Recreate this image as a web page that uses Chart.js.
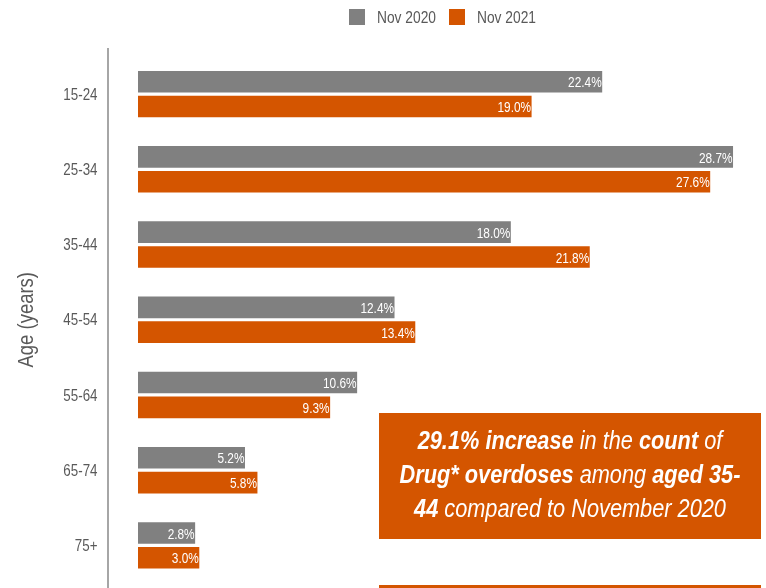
<!DOCTYPE html>
<html>
<head>
<meta charset="utf-8">
<script src="https://cdn.jsdelivr.net/npm/chart.js@4.4.1/dist/chart.umd.min.js"></script>
<style>
  html, body { margin: 0; padding: 0; background: #fff; }
  #wrap { width: 766px; height: 588px; position: relative; }
</style>
</head>
<body>
<div id="wrap"><canvas id="barChart"></canvas></div>
<script>
// Age groups and share of overdoses (%)
const ageGroups = ['15-24', '25-34', '35-44', '45-54', '55-64', '65-74', '75+'];
const nov2020 = [22.4, 28.7, 18.0, 12.4, 10.6, 5.2, 2.8];
const nov2021 = [19.0, 27.6, 21.8, 13.4, 9.3, 5.8, 3.0];
const seriesNames = ['Nov 2020', 'Nov 2021'];
const axisTitle = 'Age (years)';

const FONT = "'Liberation Sans', Arial, sans-serif";
const GREY = '#808080';
const ORANGE = '#D45500';
const TEXT = '#595959';

// the original uses a narrow font; squeeze Liberation Sans horizontally
function narrowText(ctx, str, x, y, squeeze) {
    ctx.save();
    ctx.translate(x, y);
    ctx.scale(squeeze, 1);
    ctx.fillText(str, 0, 0);
    ctx.restore();
}

// white value labels at the end of each bar
const barLabels = {
    id: 'barLabels',
    afterDatasetsDraw(chart) {
        const ctx = chart.ctx;
        ctx.save();
        ctx.font = '15px ' + FONT;
        ctx.fillStyle = '#fff';
        ctx.textAlign = 'right';
        ctx.textBaseline = 'middle';
        chart.data.datasets.forEach((ds, i) => {
            chart.getDatasetMeta(i).data.forEach((bar, j) => {
                narrowText(ctx, ds.data[j].toFixed(1) + '%', bar.x - 1.5, bar.y + 1.5, 0.79);
            });
        });
        ctx.restore();
    }
};

// legend, axis labels, axis line and the call-out box
const extras = {
    id: 'extras',
    afterDraw(chart) {
        const ctx = chart.ctx;
        const area = chart.chartArea;
        const yScale = chart.scales.y;
        ctx.save();

        // legend
        const legendX = [349, 449];
        const colours = [GREY, ORANGE];
        ctx.font = '16.5px ' + FONT;
        ctx.textBaseline = 'middle';
        ctx.textAlign = 'left';
        seriesNames.forEach((name, i) => {
            ctx.fillStyle = colours[i];
            ctx.fillRect(legendX[i], 9, 16, 16);
            ctx.fillStyle = TEXT;
            narrowText(ctx, name, legendX[i] + 28, 18, 0.835);
        });

        // category labels
        ctx.textAlign = 'right';
        ageGroups.forEach((g, i) => {
            narrowText(ctx, g, 97.5, yScale.getPixelForValue(i) + 1, 0.81);
        });

        // axis title
        ctx.save();
        ctx.translate(27, (area.top + area.bottom) / 2);
        ctx.rotate(-Math.PI / 2);
        ctx.textAlign = 'center';
        ctx.font = '22px ' + FONT;
        narrowText(ctx, axisTitle, 0, 0, 0.84);
        ctx.restore();

        ctx.strokeStyle = '#A6A6A6';
        ctx.lineWidth = 2;
        ctx.beginPath();
        ctx.moveTo(area.left, 48);
        ctx.lineTo(area.left, 588);
        ctx.stroke();

        ctx.fillStyle = ORANGE;
        ctx.fillRect(379, 413, 382, 126);
        ctx.fillRect(379, 585, 382, 3);

        const lines = [
            [['29.1% increase', true], [' in the ', false], ['count', true], [' of', false]],
            [['Drug* overdoses', true], [' among ', false], ['aged 35-', true]],
            [['44', true], [' compared to November 2020', false]]
        ];
        const ys = [442, 476, 510];
        const sq = 0.87;
        ctx.fillStyle = '#fff';
        ctx.textAlign = 'left';
        lines.forEach((segs, k) => {
            let total = 0;
            segs.forEach(s => {
                ctx.font = (s[1] ? 'italic bold ' : 'italic ') + '25px ' + FONT;
                total += ctx.measureText(s[0]).width * sq;
            });
            let x = 570 - total / 2;
            segs.forEach(s => {
                ctx.font = (s[1] ? 'italic bold ' : 'italic ') + '25px ' + FONT;
                narrowText(ctx, s[0], x, ys[k], sq);
                x += ctx.measureText(s[0]).width * sq;
            });
        });
        ctx.restore();
    }
};

new Chart(document.getElementById('barChart'), {
    type: 'bar',
    data: {
        labels: ageGroups,
        datasets: [
            { label: seriesNames[0], data: nov2020, backgroundColor: GREY,
              borderColor: 'rgba(255,255,255,0.5)', borderWidth: 1 },
            { label: seriesNames[1], data: nov2021, backgroundColor: ORANGE,
              borderColor: 'rgba(255,255,255,0.5)', borderWidth: 1 }
        ]
    },
    options: {
        indexAxis: 'y',
        responsive: true,
        maintainAspectRatio: false,
        animation: false,
        categoryPercentage: 0.66,
        barPercentage: 0.95,
        layout: { padding: { left: 0, right: 6, top: 56.5, bottom: 5 } },
        plugins: {
            legend: { display: false },
            tooltip: { enabled: false }
        },
        scales: {
            x: {
                display: false,
                min: -1.444,
                max: 29.95
            },
            y: {
                grid: { display: false, drawTicks: false },
                border: { display: false },
                ticks: { display: false },
                afterFit(scale) {
                    scale.width = 108;
                    scale.paddingTop = 0;
                    scale.paddingBottom = 0;
                }
            }
        }
    },
    plugins: [barLabels, extras]
});
</script>
</body>
</html>
